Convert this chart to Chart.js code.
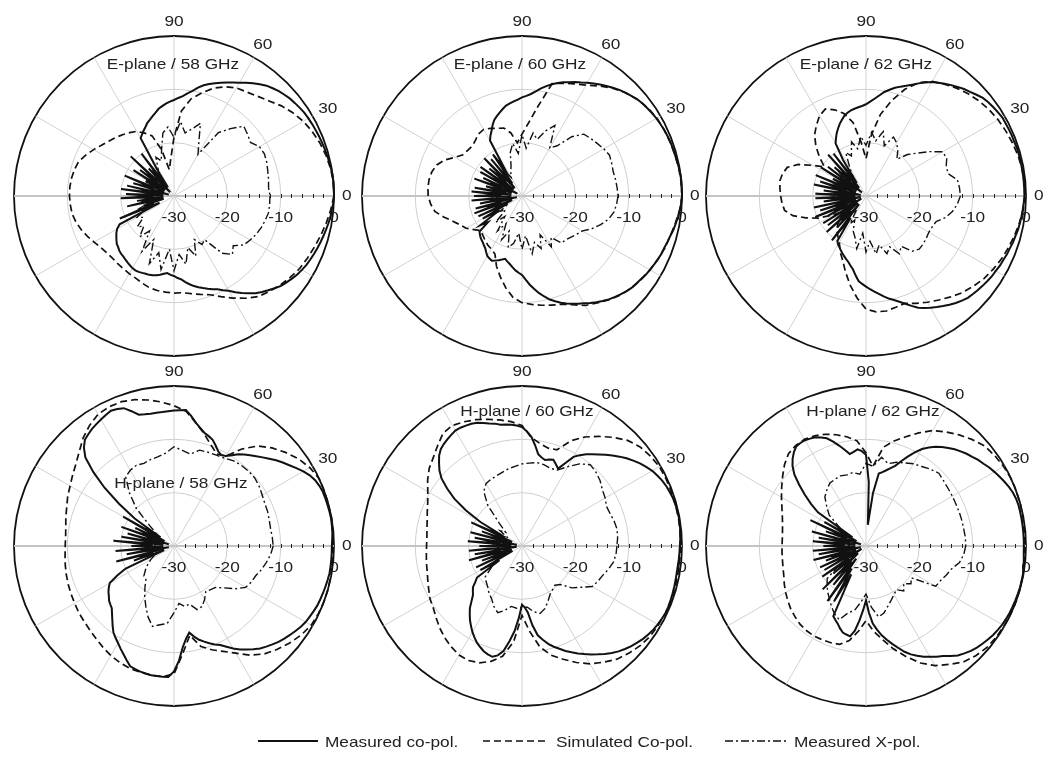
<!DOCTYPE html>
<html>
<head>
<meta charset="utf-8">
<title>Radiation patterns</title>
<script src="https://cdn.jsdelivr.net/npm/chart.js@4.4.1/dist/chart.umd.min.js"></script>
<style>
    body { margin: 0; width: 1044px; height: 772px; background: #fff; position: relative; overflow: hidden;
           font-family: 'Liberation Sans', Arial, sans-serif; color: #222; }
    canvas.plot { position: absolute; }
    .leg { position: absolute; top: 731px; height: 20px; display: flex; align-items: center; }
    .leg span { font-size: 15px; display: inline-block; transform: scaleX(1.15); transform-origin: left center; margin-left: 7px; }
</style>
</head>
<body>
<canvas class="plot" id="e58" width="380" height="380"></canvas>
<canvas class="plot" id="e60" width="380" height="380"></canvas>
<canvas class="plot" id="e62" width="380" height="380"></canvas>
<canvas class="plot" id="h58" width="380" height="380"></canvas>
<canvas class="plot" id="h60" width="380" height="380"></canvas>
<canvas class="plot" id="h62" width="380" height="380"></canvas>

<div class="leg" style="left:258px"><svg width="60" height="6"><line x1="0" y1="3" x2="60" y2="3" stroke="#111" stroke-width="2"/></svg><span>Measured co-pol.</span></div>
<div class="leg" style="left:483px"><svg width="66" height="6"><line x1="0" y1="3" x2="66" y2="3" stroke="#111" stroke-width="1.6" stroke-dasharray="7,4"/></svg><span>Simulated Co-pol.</span></div>
<div class="leg" style="left:725px"><svg width="62" height="6"><line x1="0" y1="3" x2="62" y2="3" stroke="#111" stroke-width="1.4" stroke-dasharray="8,3,2,3"/></svg><span>Measured X-pol.</span></div>

<script>
// angles in degrees, counter-clockwise from the main beam (east)
// measured co-pol is read every 2.5 deg, simulated and X-pol every 5 deg
const fineAngles = [0, 2.5, 5, 7.5, 10, 12.5, 15, 17.5, 20, 22.5, 25, 27.5, 30, 32.5, 35, 37.5, 40, 42.5, 45, 47.5, 50, 52.5, 55, 57.5,
    60, 62.5, 65, 67.5, 70, 72.5, 75, 77.5, 80, 82.5, 85, 87.5, 90, 92.5, 95, 97.5, 100, 102.5, 105, 107.5, 110, 112.5, 115, 117.5,
    120, 122.5, 125, 127.5, 130, 132.5, 135, 137.5, 140, 142.5, 145, 147.5, 150, 152.5, 155, 157.5, 160, 162.5, 165, 167.5, 170, 172.5, 175, 177.5,
    180, 182.5, 185, 187.5, 190, 192.5, 195, 197.5, 200, 202.5, 205, 207.5, 210, 212.5, 215, 217.5, 220, 222.5, 225, 227.5, 230, 232.5, 235, 237.5,
    240, 242.5, 245, 247.5, 250, 252.5, 255, 257.5, 260, 262.5, 265, 267.5, 270, 272.5, 275, 277.5, 280, 282.5, 285, 287.5, 290, 292.5, 295, 297.5,
    300, 302.5, 305, 307.5, 310, 312.5, 315, 317.5, 320, 322.5, 325, 327.5, 330, 332.5, 335, 337.5, 340, 342.5, 345, 347.5, 350, 352.5, 355, 357.5];
const angles = [0, 5, 10, 15, 20, 25, 30, 35, 40, 45, 50, 55,
    60, 65, 70, 75, 80, 85, 90, 95, 100, 105, 110, 115,
    120, 125, 130, 135, 140, 145, 150, 155, 160, 165, 170, 175,
    180, 185, 190, 195, 200, 205, 210, 215, 220, 225, 230, 235,
    240, 245, 250, 255, 260, 265, 270, 275, 280, 285, 290, 295,
    300, 305, 310, 315, 320, 325, 330, 335, 340, 345, 350, 355];
const angleTickLabels = [0, 30, 60, 90];
const dbTickLabels = [-30, -20, -10, 0];
const dbMinorTicks = [-28, -26, -24, -22, -20, -18, -16, -14, -12, -10, -8, -6, -4, -2];

// E-plane 58 GHz
const e58Meas = [0, 0, 0, 0, -0.1, -0.2, -0.3, -0.4, -0.5, -0.6, -0.7, -0.8, -0.9, -1, -1.2, -1.4, -1.6, -1.9, -2.2, -2.6, -3, -3.6, -4.2, -4.8,
    -5.5, -6, -6.5, -7, -7.5, -8, -8.5, -9.2, -10, -10.6, -11.2, -11.6, -12, -12.3, -12.6, -13, -13.4, -14, -14.5, -15, -15.4, -16, -16.5, -17,
    -17.5, -24, -28, -20, -27, -23, -29, -19, -26, -22, -28, -21, -27, -24, -28, -20, -26, -22, -29, -21, -27, -20, -28, -21,
    -26, -20, -28, -23, -27, -21, -28, -24, -26, -19, -27, -18.5, -17.7, -17.2, -16.8, -16.4, -16, -15.8, -15.5, -15.3, -15.2, -15, -14.8, -14.6,
    -14.4, -14.3, -14.3, -14.4, -14.5, -14.5, -14.6, -14.8, -15, -15.3, -15.5, -15.2, -15, -14.6, -14.3, -13.7, -13.2, -12.7, -12.3, -11.9, -11.5, -11.1, -10.7, -10.1,
    -9.5, -8.6, -7.8, -7, -6.2, -5.6, -5, -4.4, -3.8, -3.4, -3, -2.6, -2.3, -2, -1.8, -1.6, -1.4, -1.2, -1, -0.8, -0.6, -0.4, -0.3, -0.1];
const e58Sim = [0, 0, -0.2, -0.5, -0.9, -1.4, -2, -2.8, -3.7, -4.8, -5.6, -6.2,
    -6.6, -7.4, -8.5, -10, -11.5, -14, -19, -23, -25, -21, -18, -17,
    -16, -15.5, -15, -14.5, -14, -13.4, -12.6, -11.8, -11, -10.7, -10.5, -10.4,
    -10.4, -10.5, -10.6, -11, -11.5, -12.1, -12.7, -13.2, -13.5, -13.6, -13.5, -13.4,
    -13.2, -13, -12.6, -12.2, -12, -11.9, -11.8, -11.8, -11.4, -10.9, -10.3, -9.2,
    -7.9, -6.6, -5.4, -4.7, -4, -3.4, -2.8, -2.4, -2, -1.5, -1, -0.5];
const e58Xpol = [-12, -12.2, -12, -11.8, -11.5, -11.3, -11.5, -12.5, -12, -11.5, -13.5, -15.5,
    -21, -19, -15.5, -17, -18, -16, -19, -17, -18, -21, -23, -22,
    -24, -25, -24, -26, -25, -27, -24, -26, -25, -27, -25, -26,
    -24, -26, -24, -25, -23, -24, -22, -23, -21, -22, -20, -22,
    -18, -21, -16.5, -19, -16, -20, -16, -19, -17, -20, -18, -21,
    -19.5, -20, -16, -14.5, -15.5, -14, -13.5, -13, -12.6, -12.3, -12, -12];

// E-plane 60 GHz
const e60Meas = [0, 0, 0, 0, -0.1, -0.2, -0.3, -0.35, -0.4, -0.5, -0.6, -0.75, -0.9, -1.1, -1.3, -1.5, -1.8, -2.2, -2.6, -3, -3.5, -4, -4.5, -5,
    -5.5, -6, -6.4, -6.9, -7.3, -7.8, -8.3, -8.9, -9.5, -10.2, -10.8, -11.2, -11.5, -11.9, -12.2, -12.5, -12.8, -13.3, -13.8, -14.3, -14.8, -15.6, -16.5, -17.2,
    -18, -24, -20.5, -27, -21, -28, -20, -26, -22, -28, -20.5, -27, -21, -29, -22, -26, -20.5, -28, -23, -27, -21, -28, -20.5, -26,
    -21, -28, -20.5, -27, -22, -29, -21, -26, -20.5, -28, -21, -27, -21.5, -25, -20.5, -22, -19.6, -19.3, -19, -18.8, -18.6, -18.3, -18, -17.5,
    -17, -16.8, -16.6, -16.9, -17.2, -17.5, -17.8, -17.4, -17, -16.5, -16, -15.6, -15.2, -14.3, -13.3, -12.4, -11.5, -10.7, -9.9, -9.3, -8.7, -8.2, -7.7, -7.2,
    -6.8, -6.2, -5.7, -5.2, -4.7, -4.3, -3.9, -3.5, -3.2, -3, -2.8, -2.5, -2.3, -2.1, -1.9, -1.7, -1.6, -1.4, -1.2, -0.9, -0.7, -0.5, -0.3, -0.1];
const e60Sim = [0, -0.05, -0.15, -0.3, -0.45, -0.6, -0.8, -1.2, -1.8, -2.6, -3.6, -4.8,
    -6, -6.8, -7.5, -8.2, -13, -16.3, -18.4, -20, -18, -16.8, -16.5, -16,
    -15.6, -15.8, -16.4, -16.8, -16.7, -16.5, -15.5, -14, -13, -12.5, -12.3, -12.3,
    -12.4, -12.8, -13.4, -14.8, -16.2, -17.2, -17.9, -19, -19.9, -19.6, -19.2, -18.8,
    -18.5, -18, -16, -14.3, -12.5, -10.9, -10, -9.6, -9.2, -8.8, -8.4, -7.5,
    -6.3, -5.5, -4.6, -3.8, -3.2, -2.7, -2.3, -1.9, -1.5, -1.2, -0.8, -0.3];
const e60Xpol = [-12, -12.1, -12.2, -12.3, -12.1, -11.9, -12.3, -12.8, -13.2, -13.6, -15.5, -18.5,
    -19.6, -15.4, -17, -19, -18, -21, -18.5, -22, -20, -21.5, -24, -25,
    -26, -24, -27, -25, -26, -24, -27, -25, -26, -24, -27, -25,
    -26, -24, -27, -25, -26, -24, -27, -25, -26, -23, -25, -22,
    -24, -21, -23, -20, -21, -23, -20, -22.5, -19, -21, -19.5, -22,
    -19, -20.5, -18.5, -18.4, -18, -17.5, -16.9, -15.5, -14.3, -13.2, -12.5, -12.2];

// E-plane 62 GHz
const e62Meas = [-0.3, -0.3, -0.3, -0.3, -0.3, -0.3, -0.3, -0.3, -0.4, -0.4, -0.45, -0.5, -0.5, -0.7, -0.9, -1.1, -1.4, -1.9, -2.4, -2.8, -3.3, -3.8, -4.3, -4.8,
    -5.3, -6, -6.7, -7.4, -8, -8.5, -9, -9.6, -10.2, -11, -11.7, -12.3, -12.8, -13.1, -13.3, -13.5, -13.7, -14, -14.4, -15, -15.6, -16.3, -17, -17.8,
    -18.6, -22, -27, -20, -28, -19.5, -26, -22, -29, -21, -27, -20, -28, -23, -27, -19.8, -28, -21, -26, -20, -29, -22, -27, -20.5,
    -28, -20.5, -26, -22, -29, -20, -27, -21, -28, -19.7, -26, -22, -29, -20.5, -27, -21, -28, -20, -26, -22, -28, -19.5, -25, -20,
    -19.5, -19.2, -18.8, -18.4, -18, -17.6, -17.2, -16.6, -16, -15, -14, -13.5, -13, -12.5, -12, -11.5, -10.9, -10.3, -9.8, -9.2, -8.5, -7.7, -6.9, -6.3,
    -5.8, -5.3, -4.8, -4.3, -3.8, -3.4, -3, -2.8, -2.6, -2.4, -2.2, -2, -1.9, -1.7, -1.6, -1.4, -1.3, -1.1, -1, -0.8, -0.7, -0.6, -0.5, -0.4];
const e62Sim = [-0.2, -0.2, -0.3, -0.5, -0.8, -1.1, -1.4, -1.8, -2.3, -2.9, -3.6, -4.4,
    -5.2, -6.5, -8.7, -11.5, -14.5, -18.5, -23, -20, -16, -14, -12.8, -12,
    -12.6, -13.8, -15, -16.7, -18.6, -20.5, -18.5, -16, -14.3, -13.8, -13.6, -13.8,
    -14, -14.2, -14.5, -15.8, -18, -20.2, -23, -25, -24, -22.5, -21.5, -20.8,
    -20, -18.5, -17.2, -15.2, -13, -10.8, -8.8, -8.2, -8.1, -8.4, -8.6, -7.8,
    -7, -6.2, -5.3, -4.4, -3.7, -3, -2.5, -2, -1.6, -1.2, -0.8, -0.4];
const e62Xpol = [-12.3, -12.4, -12.6, -14, -14, -13.3, -13.4, -15.5, -17.5, -19, -21, -19.6,
    -18.5, -17.8, -20, -17.5, -19.5, -18, -20.5, -18.8, -21, -19.5, -22, -21,
    -24, -26, -25, -27, -24, -26, -25, -27, -24, -26, -25, -27,
    -24, -26, -25, -27, -24, -26, -25, -27, -24, -26, -25, -27,
    -24, -25, -23, -22, -20, -23, -19.5, -21.5, -19, -20.5, -18.5, -19.5,
    -17.5, -18.5, -16.5, -15.9, -16, -16.2, -16.4, -16.3, -16, -14.5, -13.5, -12.8];

// H-plane 58 GHz
const h58Meas = [-0.4, -0.3, -0.2, -0.15, -0.1, -0.15, -0.2, -0.25, -0.3, -0.5, -0.8, -1.3, -2, -2.8, -3.6, -4.3, -5, -5.8, -6.5, -7.2, -7.8, -8.4, -9, -9.8,
    -10.5, -10.8, -10.4, -9.6, -8.8, -8.4, -8, -7.3, -6.5, -5.4, -4.4, -4.5, -4.6, -4.7, -4.8, -4.8, -4.8, -4.7, -4.5, -3.5, -2.5, -2.2, -2, -2.3,
    -2.6, -2.9, -3.2, -3.6, -4, -5, -6.5, -9.5, -13, -17, -21, -27, -19, -28, -22, -26, -19.5, -29, -21, -27, -20, -28, -18.6, -26,
    -22, -28, -19, -27, -21, -29, -18.8, -26, -22, -28, -20, -18, -16.1, -15.5, -15, -14.6, -14.1, -13.8, -13.5, -12.8, -12, -11.1, -10.2, -9.6,
    -9, -8.3, -7.6, -6.8, -6, -5.8, -5.6, -5.5, -5.4, -5.4, -5.4, -5.4, -6.5, -8.5, -11, -12.5, -13.5, -12.6, -11.8, -11.2, -10.6, -10, -9.5, -8.7,
    -7.8, -7, -6.3, -5.6, -4.9, -4.4, -3.9, -3.4, -3, -2.6, -2.2, -1.8, -1.5, -1.3, -1.1, -0.9, -0.8, -0.7, -0.6, -0.5, -0.4, -0.4, -0.4, -0.4];
const h58Sim = [-0.3, -0.1, 0, 0, 0, 0, -0.6, -1.5, -2.7, -4, -5.5, -7.8,
    -10.5, -11, -9.8, -8.2, -6.5, -4.6, -3.7, -2.9, -2.2, -1.6, -1.2, -1.2,
    -1.5, -2.4, -3.5, -4.9, -6, -6.8, -7.5, -8, -8.6, -9, -9.4, -9.6,
    -9.6, -9.5, -9.3, -9.1, -8.9, -8.7, -8.5, -8.2, -8, -7.7, -7.3, -6.8,
    -6.3, -5.9, -5.6, -5.5, -5.4, -5.4, -6, -10, -13, -10.5, -9.3, -8.2,
    -6.8, -5, -3.6, -2.6, -1.7, -0.9, -0.3, -0.1, 0, 0, -0.1, -0.2];
const h58Xpol = [-11.4, -11.5, -11.6, -11.5, -11.3, -11.2, -10.9, -10.5, -10.2, -10.2, -10.3, -10.5,
    -11, -11.2, -11.3, -11.4, -12.5, -12, -11.4, -12.5, -13, -13.2, -13.5, -13.3,
    -13.6, -14.2, -17, -20, -24, -26, -25, -27, -24, -26, -25, -27,
    -24, -26, -25, -27, -24, -26, -25, -24, -23, -22, -21.8, -20.5,
    -19, -17.5, -15.8, -14.4, -15, -15.4, -17.5, -19.2, -18.5, -18.7, -17.3, -17.5,
    -18.5, -19.6, -19.3, -19, -17.8, -16, -14.5, -14, -13.7, -13, -12.4, -11.8];

// H-plane 60 GHz
const h60Meas = [-0.4, -0.3, -0.2, -0.15, -0.1, -0.15, -0.2, -0.3, -0.5, -0.7, -1, -1.4, -1.8, -2.4, -3, -3.7, -4.4, -5.2, -6, -6.8, -7.6, -8.3, -9, -9.8,
    -10.7, -12.5, -14, -13.4, -12.8, -13, -13.3, -13, -12.5, -11, -9.5, -8.5, -7.7, -7.4, -7.2, -7, -6.9, -6.5, -6.2, -5.8, -5.4, -5.2, -5.1, -5,
    -5, -5.3, -5.6, -5.9, -6.3, -7, -8, -9, -10.3, -12.3, -14.5, -17.5, -21, -26, -19.5, -28, -22, -27, -20, -29, -21, -26, -19.8, -28,
    -22, -27, -20, -29, -21, -26, -19.7, -28, -22, -27, -20.5, -28, -21, -25, -19.7, -19, -18, -17.5, -17, -16, -14.8, -13.9, -13, -12.2,
    -11.4, -10.7, -10, -9.5, -9, -8.7, -8.5, -9, -10, -12, -14, -16.5, -19, -18.5, -17.5, -15, -13, -12, -11, -10.2, -9.5, -8.7, -8, -7.3,
    -6.6, -5.9, -5.2, -4.5, -3.8, -3.2, -2.7, -2.2, -1.8, -1.4, -1.1, -0.8, -0.6, -0.45, -0.3, -0.3, -0.35, -0.4, -0.45, -0.5, -0.55, -0.55, -0.5, -0.45];
const h60Sim = [-0.3, -0.25, -0.2, -0.2, -0.2, -0.2, -0.25, -0.6, -1.1, -2, -3.4, -4.9,
    -6.4, -8.2, -10.8, -11, -10.5, -9.6, -7.4, -6.6, -6, -5.4, -4.8, -4.3,
    -3.9, -4.2, -5.4, -6.5, -7.3, -8.4, -9.6, -10.5, -11.1, -11.6, -11.9, -12.1,
    -12.1, -12, -11.8, -11.6, -11.2, -10.7, -10.1, -9.7, -9, -8.2, -7.5, -6.9,
    -6.4, -6.3, -6.7, -7.6, -9, -12, -17, -14, -10.8, -8.8, -7.4, -5.9,
    -4.5, -3.4, -2.3, -1.6, -1, -0.6, -0.45, -0.3, -0.25, -0.25, -0.3, -0.3];
const h60Xpol = [-12.2, -12, -11.9, -12.1, -12.4, -12.5, -12, -11.6, -10.9, -10.4, -10.1, -11.2,
    -12.8, -14.3, -14.5, -14.2, -14.1, -14.4, -14.6, -15, -15.3, -15.7, -16, -16.2,
    -16.5, -17.5, -20, -24, -26, -25, -27, -24, -26, -25, -27, -24,
    -26, -25, -27, -24, -26, -25, -24, -23, -21, -20.5, -20, -19.2,
    -18.6, -17.5, -16.7, -17.5, -18.5, -18.3, -18.5, -18.5, -17.5, -16.9, -17.5, -18.5,
    -19.5, -20, -20.4, -19.8, -17.8, -16.5, -14.8, -14.3, -13.9, -13.2, -12.6, -12.3];

// H-plane 62 GHz
const h62Meas = [-0.4, -0.4, -0.4, -0.4, -0.4, -0.4, -0.4, -0.5, -0.7, -1, -1.4, -1.8, -2.2, -2.6, -3.1, -3.5, -4, -4.4, -4.9, -5.4, -6, -6.6, -7.3, -8.1,
    -9, -10.2, -11.5, -12.8, -14, -14.7, -15.3, -15.8, -16.2, -20, -26, -18, -12.9, -12.2, -11.8, -12.2, -12.5, -11.5, -10.5, -9.5, -8.5, -8, -7.5, -7.3,
    -7.1, -7.1, -7.2, -7.8, -8.6, -9.6, -11, -13, -15, -17, -19, -27, -21, -28, -18.5, -26, -22, -29, -19.5, -27, -21, -28, -20, -26,
    -22, -28, -20, -27, -21, -29, -19.8, -26, -22, -28, -20.5, -27, -21, -29, -20, -26, -22, -28, -18.5, -26, -20.5, -27, -17.4, -25,
    -18, -24, -15.5, -15, -14.5, -13.8, -13.2, -13, -12.8, -14, -16, -18, -19.8, -17.5, -15.4, -14.2, -13, -12, -11, -10, -8.9, -8, -7.3, -6.6,
    -6, -5.4, -4.8, -4, -3.2, -2.7, -2.2, -1.8, -1.5, -1.2, -0.9, -0.7, -0.5, -0.4, -0.3, -0.25, -0.2, -0.15, -0.1, -0.1, -0.1, -0.2, -0.3, -0.4];
const h62Sim = [-0.3, -0.2, -0.1, 0, 0, 0, -0.2, -0.5, -0.9, -1.8, -2.8, -3.9,
    -5, -6.6, -8.2, -9.6, -11.2, -15, -12.5, -10.2, -9.2, -8.4, -7.7, -7.2,
    -6.9, -7, -7.4, -8.4, -9.6, -10.7, -11.7, -12.6, -13.3, -13.8, -14.1, -14.25,
    -14.25, -14.2, -14.1, -13.9, -13.6, -13.1, -12.6, -12.1, -11.6, -11.2, -10.8, -10.6,
    -10.5, -10.6, -10.7, -10.9, -12, -14, -16, -14, -12.2, -10, -7.9, -5.8,
    -4.1, -2.9, -1.6, -0.9, -0.4, -0.2, -0.1, 0, 0, -0.05, -0.1, -0.2];
const h62Xpol = [-11.3, -11.3, -11.4, -11.4, -11.4, -11.4, -11.3, -11.2, -11, -10.7, -11.2, -11.8,
    -12.2, -12.8, -13.3, -14, -13.1, -15, -14.5, -16.5, -16, -16.2, -16, -16.2,
    -16.4, -17.2, -18, -19.6, -21, -24, -26, -25, -27, -24, -26, -25,
    -27, -24, -26, -25, -27, -24, -26, -24, -20.5, -19.7, -18.8, -18,
    -17, -16, -15.3, -17, -17.8, -19.5, -21, -18.5, -16.5, -17, -18, -18.8,
    -19.5, -20, -19, -20, -19, -19.6, -14.9, -14.6, -14, -13.4, -12.2, -11.6];

const plots = [
    { id: 'e58', cx: 174, cy: 196, title: 'E-plane / 58 GHz', tx: -1, ty: -131, meas: e58Meas, sim: e58Sim, xpol: e58Xpol },
    { id: 'e60', cx: 522, cy: 196, title: 'E-plane / 60 GHz', tx: -2, ty: -131, meas: e60Meas, sim: e60Sim, xpol: e60Xpol },
    { id: 'e62', cx: 866, cy: 196, title: 'E-plane / 62 GHz', tx: 0, ty: -131, meas: e62Meas, sim: e62Sim, xpol: e62Xpol },
    { id: 'h58', cx: 174, cy: 546, title: 'H-plane / 58 GHz', tx: 7, ty: -62, meas: h58Meas, sim: h58Sim, xpol: h58Xpol },
    { id: 'h60', cx: 522, cy: 546, title: 'H-plane / 60 GHz', tx: 5, ty: -134, meas: h60Meas, sim: h60Sim, xpol: h60Xpol },
    { id: 'h62', cx: 866, cy: 546, title: 'H-plane / 62 GHz', tx: 7, ty: -134, meas: h62Meas, sim: h62Sim, xpol: h62Xpol }
];

const FONT = "15px 'Liberation Sans', Arial, sans-serif";
const STRETCH = 1.15;

function stretchedText(ctx, str, x, y) {
    ctx.save();
    ctx.translate(x, y);
    ctx.scale(STRETCH, 1);
    ctx.fillText(str, 0, 0);
    ctx.restore();
}

// grid decorations: dB ticks along the 0 deg spoke, labels, title
const polarDeco = p => ({
    id: 'polarDeco',
    beforeDatasetsDraw(chart) {
        const s = chart.scales.r;
        const ctx = chart.ctx;
        ctx.save();
        ctx.strokeStyle = '#222';
        ctx.lineWidth = 1;
        dbMinorTicks.forEach(v => {
            const x = Math.round(s.xCenter + s.getDistanceFromCenterForValue(v)) + 0.5;
            ctx.beginPath();
            ctx.moveTo(x, s.yCenter - 2);
            ctx.lineTo(x, s.yCenter + 2);
            ctx.stroke();
        });

        ctx.font = FONT;
        ctx.fillStyle = '#222';
        ctx.textAlign = 'center';
        ctx.textBaseline = 'middle';
        dbTickLabels.forEach(v => {
            stretchedText(ctx, String(v), s.xCenter + s.getDistanceFromCenterForValue(v), s.yCenter + 22);
        });

        angleTickLabels.forEach(a => {
            const idx = chart.data.labels.indexOf(a);
            const d = s.drawingArea + 8;
            const pos = s.getPointPosition(idx, d);
            const ux = (pos.x - s.xCenter) / d, uy = (pos.y - s.yCenter) / d;
            const w = ctx.measureText(String(a)).width * STRETCH;
            stretchedText(ctx, String(a), pos.x + ux * w / 2, pos.y + uy * 6);
        });

        stretchedText(ctx, p.title, s.xCenter + p.tx, s.yCenter + p.ty);
        ctx.restore();
    }
});

function makePlot(p) {
    const canvas = document.getElementById(p.id);
    canvas.style.left = (p.cx - 190) + 'px';
    canvas.style.top = (p.cy - 190) + 'px';

    // radar goes clockwise, patterns are counter-clockwise: walk the angles backwards
    const n = fineAngles.length;
    const order = fineAngles.map((a, k) => (n - k) % n);
    const pickFine = series => order.map(i => series[i]);
    const pickCoarse = series => order.map(i => {
        const j = angles.indexOf(fineAngles[i]);
        return j < 0 ? null : series[j];
    });

    new Chart(canvas, {
        type: 'radar',
        data: {
            labels: order.map(i => fineAngles[i]),
            datasets: [
                { label: 'Measured co-pol.', data: pickFine(p.meas), borderColor: '#111', borderWidth: 2 },
                { label: 'Simulated Co-pol.', data: pickCoarse(p.sim), borderColor: '#111', borderWidth: 1.7, borderDash: [7, 4], spanGaps: true },
                { label: 'Measured X-pol.', data: pickCoarse(p.xpol), borderColor: '#111', borderWidth: 1.4, borderDash: [8, 3, 2, 3], spanGaps: true }
            ]
        },
        options: {
            responsive: false,
            animation: false,
            layout: { padding: 30 },
            elements: {
                point: { radius: 0, hoverRadius: 0 },
                line: { tension: 0, fill: false, backgroundColor: 'transparent' }
            },
            plugins: { legend: { display: false }, tooltip: { enabled: false } },
            scales: {
                r: {
                    min: -30,
                    max: 0,
                    startAngle: 90,
                    ticks: { display: false, stepSize: 10 },
                    pointLabels: { display: false },
                    grid: {
                        circular: true,
                        color: c => c.tick && c.tick.value === 0 ? '#111' : '#cfcfcf',
                        lineWidth: c => c.tick && c.tick.value === 0 ? 1.8 : 1
                    },
                    angleLines: {
                        color: c => (c.index % (n / 2) === 0) ? '#c4c4c4' : '#d2d2d2',
                        lineWidth: c => c.index % (n / 2) === 0 ? 2 : (c.index % (n / 12) === 0 ? 1 : 0)
                    }
                }
            }
        },
        plugins: [polarDeco(p)]
    });
}

plots.forEach(makePlot);
</script>
</body>
</html>
